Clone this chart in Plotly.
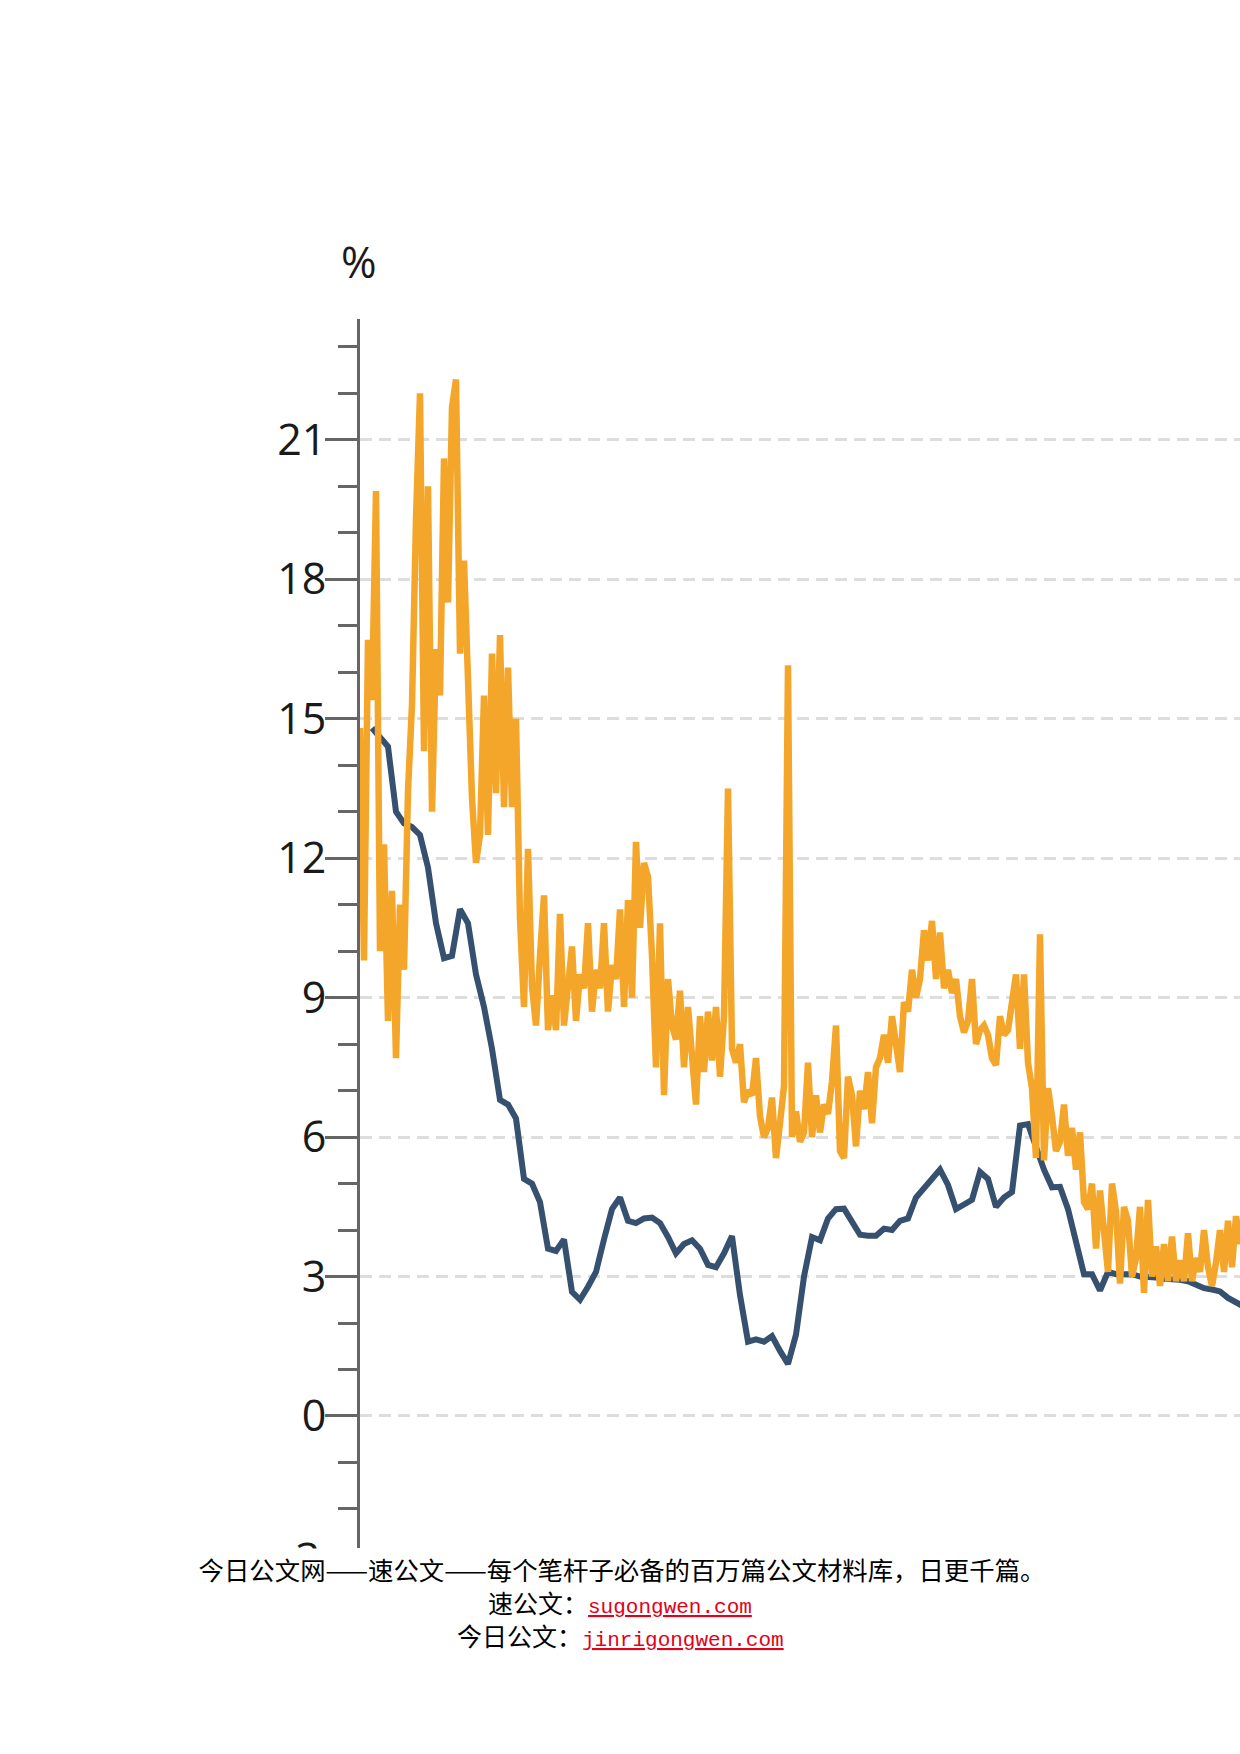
import plotly.graph_objects as go

# ---- data ----
# orange series: one value per week, starting at week 0
orange = [
    14.8, 9.8, 16.7, 15.4, 19.9, 10.0, 12.3, 8.5, 11.3, 7.7,
    11.0, 9.6, 13.45, 15.3, 19.3, 22.0, 14.3, 20.0, 13.0, 16.5,
    15.5, 20.6, 17.5, 21.7, 22.3, 16.4, 18.4, 15.8, 13.3, 11.9,
    12.5, 15.5, 12.5, 16.4, 13.4, 16.8, 13.1, 16.1, 13.1, 15.0,
    10.7, 8.8, 12.2, 9.25, 8.4, 9.9, 11.2, 8.3, 9.05, 8.3,
    10.8, 8.4, 9.4, 10.1, 8.5, 9.5, 9.2, 10.6, 8.7, 9.6,
    9.2, 10.6, 8.7, 9.7, 9.4, 10.9, 8.8, 11.1, 9.0, 12.35,
    10.5, 11.9, 11.6, 9.9, 7.5, 10.6, 6.9, 9.4, 8.4, 8.1,
    9.15, 7.5, 8.8, 7.9, 6.7, 8.6, 7.4, 8.7, 7.65, 8.8,
    7.3, 8.6, 13.5, 7.9, 7.6, 8.0, 6.75, 7.0, 6.9, 7.7,
    6.45, 6.0, 6.2, 6.85, 5.55, 6.3, 7.1, 16.15, 6.0, 6.55,
    5.9, 6.1, 7.6, 6.0, 6.9, 6.1, 6.7, 6.5, 7.2, 8.4,
    5.7, 5.55, 7.3, 6.9, 5.8, 7.0, 6.6, 7.4, 6.3, 7.5,
    7.7, 8.2, 7.6, 8.6, 8.0, 7.4, 8.9, 8.7, 9.6, 9.0,
    9.4, 10.45, 9.8, 10.65, 9.4, 10.4, 9.2, 9.6, 9.1, 9.4,
    8.6, 8.25, 8.5, 9.4, 8.0, 8.3, 8.4, 8.2, 7.7, 7.55,
    8.6, 8.2, 8.3, 9.0, 9.5, 7.9, 9.5, 7.6, 7.05, 5.55,
    10.36, 5.5, 7.05, 6.45, 5.7, 5.9, 6.7, 5.6, 6.2, 5.3,
    6.1, 4.6, 4.45, 5.0, 3.6, 4.85, 3.86, 3.1, 5.0, 4.4,
    2.85, 4.5, 4.2, 3.0, 3.4, 4.5, 2.65, 4.65, 3.0, 3.65,
    2.8, 3.7, 2.9, 3.86, 2.9, 3.35, 2.9, 3.93, 2.9, 3.4,
    3.1, 4.0, 3.2, 2.8, 3.3, 4.0, 3.1, 4.2, 3.2, 4.3,
    3.7, 4.2,
]
ORANGE_START_WEEK = 0

# blue series: one value every 2 weeks, starting at week 3
blue = [
    14.8, 14.6, 14.4, 13.0, 12.75, 12.67, 12.5, 11.8, 10.6, 9.85,
    9.9, 10.9, 10.6, 9.5, 8.8, 7.9, 6.8, 6.7, 6.4, 5.1,
    5.0, 4.6, 3.6, 3.55, 3.8, 2.67, 2.5, 2.78, 3.1, 3.8,
    4.45, 4.7, 4.2, 4.15, 4.25, 4.27, 4.15, 3.85, 3.5, 3.7,
    3.78, 3.6, 3.25, 3.2, 3.5, 3.87, 2.6, 1.6, 1.65, 1.6,
    1.72, 1.4, 1.12, 1.75, 3.0, 3.85, 3.78, 4.25, 4.45, 4.46,
    4.15, 3.9, 3.88, 3.88, 4.03, 4.0, 4.2, 4.25, 4.7, 4.9,
    5.08, 5.3, 4.97, 4.45, 4.55, 4.65, 5.25, 5.1, 4.5, 4.7,
    4.82, 6.25, 6.28, 5.75, 5.3, 4.92, 4.93, 4.45, 3.7, 3.05,
    3.05, 2.7, 3.1, 3.05, 3.05, 3.05, 3.0, 3.0, 2.98, 2.95,
    2.95, 2.93, 2.9, 2.82, 2.75, 2.72, 2.68, 2.54, 2.45, 2.35,
]
BLUE_START_WEEK = 3
BLUE_STEP_WEEKS = 2

y_tick_values = [0, 3, 6, 9, 12, 15, 18, 21]
y_tick_labels = ["0", "3", "6", "9", "12", "15", "18", "21"]
y_unit_label = "%"
y_clipped_label = "−3"

footer_line1 = "今日公文网——速公文——每个笔杆子必备的百万篇公文材料库，日更千篇。"
footer_line2_prefix = "速公文："
footer_line2_link = "sugongwen.com"
footer_line3_prefix = "今日公文："
footer_line3_link = "jinrigongwen.com"

# ---- layout geometry (pixels on the 1240x1754 page) ----
W, H = 1240, 1754
PLOT_L, PLOT_R, PLOT_T, PLOT_B = 360, 1240, 319, 1548
X_RANGE = [0, 220]
Y_RANGE = [-2.84, 23.60]

ORANGE = "#F4A62A"
BLUE = "#36506F"
AXIS = "#666666"
TEXT = "#1a1a1a"
TICK_FONT = dict(family="Open Sans, Noto Sans, sans-serif", size=43, color=TEXT)


def px_x(px):
    return (px - PLOT_L) / (PLOT_R - PLOT_L)


def px_y(py):
    return (PLOT_B - py) / (PLOT_B - PLOT_T)


orange_x = [ORANGE_START_WEEK + i for i in range(len(orange))]
blue_x = [BLUE_START_WEEK + BLUE_STEP_WEEKS * i for i in range(len(blue))]

fig = go.Figure()
fig.add_trace(go.Scatter(x=blue_x, y=blue, mode="lines",
                         line=dict(color=BLUE, width=6), hoverinfo="skip",
                         showlegend=False))
fig.add_trace(go.Scatter(x=orange_x, y=orange, mode="lines",
                         line=dict(color=ORANGE, width=6.5), hoverinfo="skip",
                         showlegend=False))

link_style = 'color:#e3001b;font-family:Liberation Mono, DejaVu Sans Mono, monospace;font-size:21px'
cjk = "Noto Sans CJK SC, sans-serif"

annotations = [
    dict(text=y_unit_label, xref="paper", yref="paper", x=px_x(359), y=px_y(262),
         xanchor="center", yanchor="middle", showarrow=False, font=TICK_FONT),
    dict(text=y_clipped_label, xref="paper", yref="paper", x=px_x(322), y=px_y(1558),
         xanchor="right", yanchor="middle", showarrow=False, font=TICK_FONT),
    dict(text=footer_line1, xref="paper", yref="paper", x=px_x(622), y=px_y(1569),
         xanchor="center", yanchor="middle", showarrow=False,
         bgcolor="white", width=1000, height=40, borderpad=0,
         font=dict(family=cjk, size=25.4, color="#000")),
    dict(text=footer_line2_prefix + f'<span style="{link_style}"><u>{footer_line2_link}</u></span>',
         xref="paper", yref="paper", x=px_x(620), y=px_y(1602),
         xanchor="center", yanchor="middle", showarrow=False,
         font=dict(family=cjk, size=25, color="#000")),
    dict(text=footer_line3_prefix + f'<span style="{link_style}"><u>{footer_line3_link}</u></span>',
         xref="paper", yref="paper", x=px_x(620), y=px_y(1635),
         xanchor="center", yanchor="middle", showarrow=False,
         font=dict(family=cjk, size=25, color="#000")),
]

fig.update_layout(
    width=W, height=H,
    margin=dict(l=PLOT_L, r=W - PLOT_R, t=PLOT_T, b=H - PLOT_B, pad=0),
    paper_bgcolor="white", plot_bgcolor="white",
    showlegend=False,
    annotations=annotations,
    xaxis=dict(range=X_RANGE, visible=False, showgrid=False, zeroline=False),
    yaxis=dict(
        range=Y_RANGE,
        tickmode="array", tickvals=y_tick_values, ticktext=y_tick_labels,
        ticks="outside", ticklen=32, tickwidth=3, tickcolor=AXIS,
        ticklabelstandoff=-10,
        showline=True, linecolor=AXIS, linewidth=3,
        showgrid=True, gridcolor="#dddddd", gridwidth=3, griddash="12px,7px",
        zeroline=False, tickfont=TICK_FONT,
        minor=dict(dtick=1, tick0=0, ticks="outside", ticklen=19, tickwidth=3,
                   tickcolor=AXIS, showgrid=False),
    ),
)

fig.write_html("out.html")
